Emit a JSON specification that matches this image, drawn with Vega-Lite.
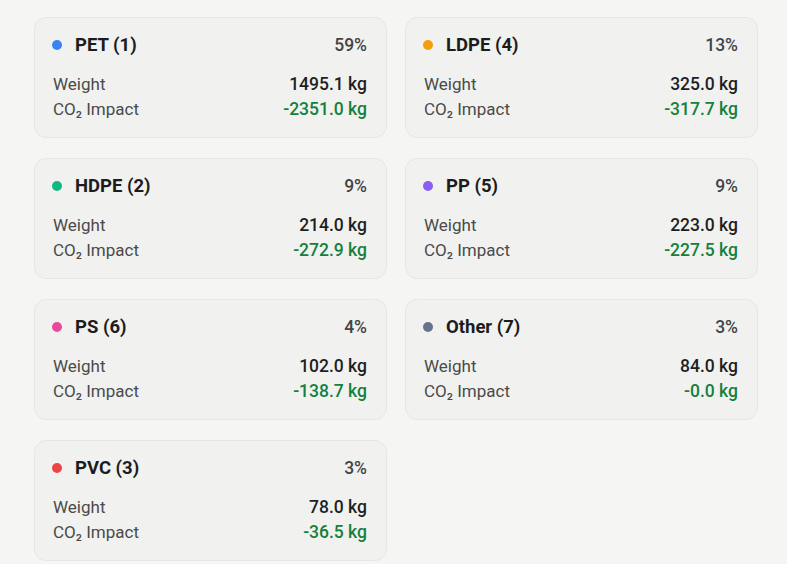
{
  "$schema": "https://vega.github.io/schema/vega-lite/v6.json",
  "description": "Plastic type cards: share, weight and CO2 impact",
  "background": "#f5f6f4",
  "padding": {"left": 33, "top": 16, "right": 29, "bottom": 4},
  "data": {
    "values": [
      {"name": "PET (1)", "share": 0.59, "weight": 1495.1, "co2": -2351.0},
      {"name": "LDPE (4)", "share": 0.13, "weight": 325.0, "co2": -317.7},
      {"name": "HDPE (2)", "share": 0.09, "weight": 214.0, "co2": -272.9},
      {"name": "PP (5)", "share": 0.09, "weight": 223.0, "co2": -227.5},
      {"name": "PS (6)", "share": 0.04, "weight": 102.0, "co2": -138.7},
      {"name": "Other (7)", "share": 0.03, "weight": 84.0, "co2": -0.02},
      {"name": "PVC (3)", "share": 0.03, "weight": 78.0, "co2": -36.5}
    ]
  },
  "transform": [
    {"calculate": "format(datum.weight, '.1f') + ' kg'", "as": "weight_label"},
    {"calculate": "(datum.co2 < 0 ? '-' : '') + format(abs(datum.co2), '.1f') + ' kg'", "as": "co2_label"}
  ],
  "facet": {
    "field": "name",
    "type": "nominal",
    "sort": ["PET (1)", "LDPE (4)", "HDPE (2)", "PP (5)", "PS (6)", "Other (7)", "PVC (3)"],
    "title": null,
    "header": {"title": null, "labelExpr": "''", "labelFontSize": 0, "labelPadding": 0, "titlePadding": 0}
  },
  "columns": 2,
  "spacing": {"row": 19, "column": 17},
  "spec": {
    "width": 352,
    "height": 120,
    "view": {"fill": "#f1f2f0", "stroke": "#e5e7e4", "strokeWidth": 1, "cornerRadius": 12},
    "layer": [
      {
        "mark": {"type": "circle", "x": 23, "y": 28, "size": 100, "opacity": 1},
        "encoding": {
          "color": {
            "field": "name",
            "type": "nominal",
            "scale": {
              "domain": ["PET (1)", "LDPE (4)", "HDPE (2)", "PP (5)", "PS (6)", "Other (7)", "PVC (3)"],
              "range": ["#3b82f6", "#f59e0b", "#10b981", "#8b5cf6", "#ec4899", "#64748b", "#ef4444"]
            },
            "legend": null
          }
        }
      },
      {
        "mark": {"type": "text", "x": 41, "y": 34, "align": "left", "baseline": "alphabetic", "font": "Roboto", "fontSize": 18.5, "fontWeight": "bold", "color": "#1c1c1c"},
        "encoding": {"text": {"field": "name"}}
      },
      {
        "mark": {"type": "text", "x": 333, "y": 34, "align": "right", "baseline": "alphabetic", "font": "Roboto", "fontSize": 17.5, "fontWeight": 500, "color": "#444444"},
        "encoding": {"text": {"field": "share", "format": ".0%"}}
      },
      {
        "mark": {"type": "text", "x": 19, "y": 72.5, "align": "left", "baseline": "alphabetic", "font": "Roboto", "fontSize": 17, "color": "#4a4a4a", "text": "Weight"},
        "encoding": {}
      },
      {
        "mark": {"type": "text", "x": 19, "y": 98, "align": "left", "baseline": "alphabetic", "font": "Roboto", "fontSize": 17, "color": "#4a4a4a", "text": "CO₂ Impact"},
        "encoding": {}
      },
      {
        "mark": {"type": "text", "x": 333, "y": 72.5, "align": "right", "baseline": "alphabetic", "font": "Roboto", "fontSize": 17.5, "fontWeight": 500, "color": "#1f1f1f"},
        "encoding": {"text": {"field": "weight_label"}}
      },
      {
        "mark": {"type": "text", "x": 333, "y": 98, "align": "right", "baseline": "alphabetic", "font": "Roboto", "fontSize": 17.5, "fontWeight": 500, "color": "#15803d"},
        "encoding": {"text": {"field": "co2_label"}}
      }
    ]
  },
  "config": {
    "view": {"fill": "#f1f2f0", "stroke": "#e5e7e4", "strokeWidth": 1, "cornerRadius": 12}
  }
}
